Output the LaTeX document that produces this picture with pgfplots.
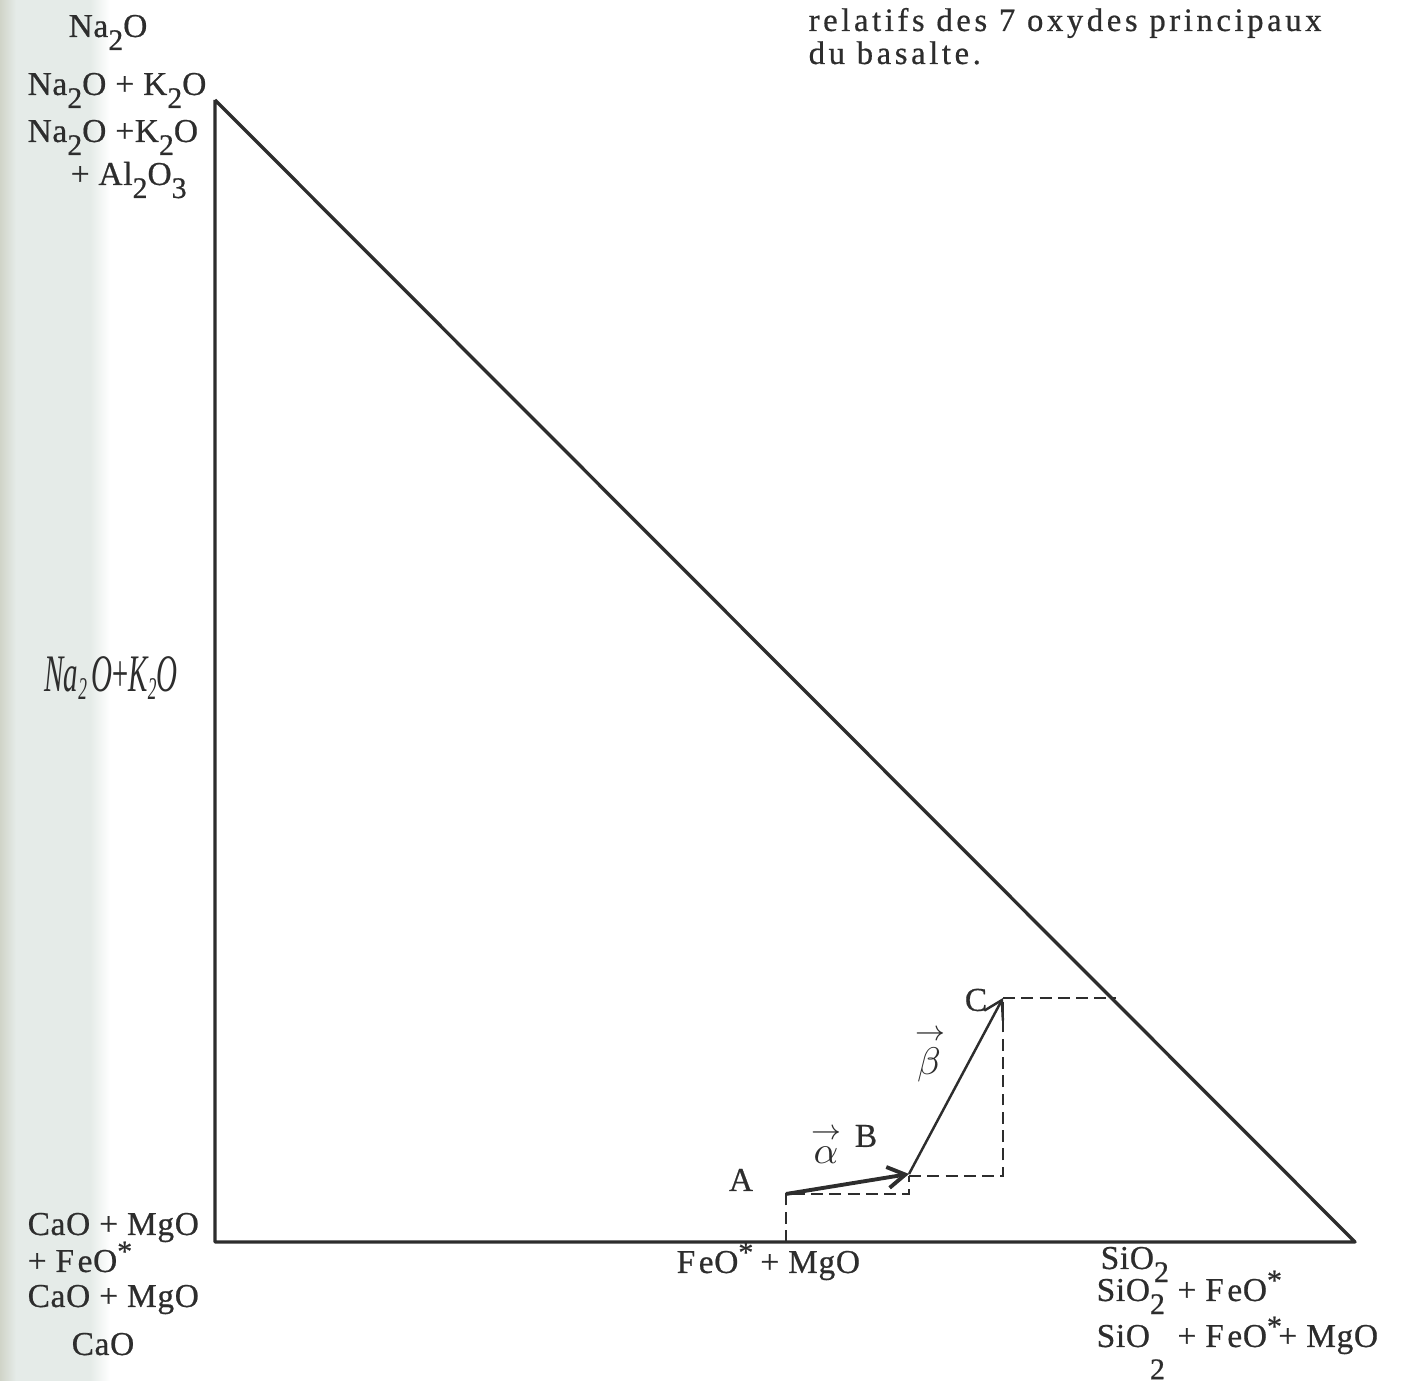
\documentclass[border=0pt]{standalone}
\usepackage{fontspec}
\setmainfont{Liberation Serif}
\newfontfamily\typ[LetterSpace=2,FakeBold=0.6]{Liberation Serif}
\newfontfamily\typc[LetterSpace=11,FakeBold=0.6]{Liberation Serif}
\usepackage{pgfplots}
\pgfplotsset{compat=1.18}
\usetikzlibrary{arrows.meta}
\usepackage{graphicx}
\definecolor{ink}{RGB}{45,45,45}
\definecolor{scanA}{RGB}{208,212,200}
\definecolor{scanB}{RGB}{229,235,232}
\newcommand{\sub}[1]{\raisebox{-0.85ex}{\fontsize{8.5}{10}\selectfont #1}}
\newcommand{\st}{\raisebox{0.7ex}{\fontsize{8.5}{10}\selectfont *}}
\newcommand{\lbl}{\fontsize{9.5}{11}\typ}
\begin{document}
\begin{tikzpicture}
\begin{axis}[width=14.14cm,height=13.81cm,scale only axis,
  xmin=0,xmax=1414,ymin=0,ymax=1381,hide axis,clip=false]
% scan shadow on the left edge
\fill[scanB] (axis cs:14,0) rectangle (axis cs:90,1381);
\shade[left color=scanB,right color=white,draw=none] (axis cs:90,0) rectangle (axis cs:110,1381);
\shade[left color=scanA,right color=scanB,draw=none] (axis cs:0,0) rectangle (axis cs:16,1381);
% triangle
\addplot[ink,line width=0.95pt,line join=round] coordinates {(215,1281) (215,139) (1355,139) (215,1281)};
% dashed construction lines
\addplot[ink,line width=0.6pt,dash pattern=on 3.4pt off 1.8pt] coordinates {(786,139) (786,187) (909,187) (909,205)};
\addplot[ink,line width=0.6pt,dash pattern=on 3.4pt off 1.8pt] coordinates {(909,205) (1003,205) (1003,383)};
\addplot[ink,line width=0.6pt,dash pattern=on 3.4pt off 1.8pt] coordinates {(1003,383) (1116,383)};
% vectors
\addplot[ink,line width=1.1pt,-{Straight Barb[length=5pt,width=6pt]}] coordinates {(786,187) (909,207)};
\addplot[ink,line width=0.7pt,-{Straight Barb[length=5pt,width=6pt]}] coordinates {(909,207) (1003,383)};
% point labels
\node[ink,font=\fontsize{9.5}{11}\typ] at (axis cs:741,201) {A};
\node[ink,font=\fontsize{9.5}{11}\typ] at (axis cs:866,245) {B};
\node[ink,font=\fontsize{9.5}{11}\typ] at (axis cs:976,381) {C};
\node[ink,font=\fontsize{11}{12}\selectfont,inner sep=0pt] at (axis cs:826,236) {$\stackrel{\rightarrow}{\alpha}$};
\node[ink,font=\fontsize{11}{12}\selectfont,inner sep=0pt] at (axis cs:929,327) {$\stackrel{\rightarrow}{\beta}$};
% top-left labels
\node[ink,font=\lbl,anchor=base west,inner sep=0pt] at (axis cs:68,1344) {Na\sub{2}O};
\node[ink,font=\lbl,anchor=base west,inner sep=0pt] at (axis cs:27,1286) {Na\sub{2}O + K\sub{2}O};
\node[ink,font=\lbl,anchor=base west,inner sep=0pt] at (axis cs:27,1239) {Na\sub{2}O +K\sub{2}O};
\node[ink,font=\lbl,anchor=base west,inner sep=0pt] at (axis cs:70,1196) {+ Al\sub{2}O\sub{3}};
\node[ink,font=\fontsize{15}{17}\selectfont\itshape,inner sep=0pt] at (axis cs:111,703)
  {\scalebox{0.55}[1]{Na\raisebox{-0.3ex}{\fontsize{9}{10}\selectfont 2}\,O\kern-1pt+\kern-1ptK\raisebox{-0.3ex}{\fontsize{9}{10}\selectfont 2}O}};
% bottom-left labels
\node[ink,font=\lbl,anchor=base west,inner sep=0pt] at (axis cs:27,146) {CaO + MgO};
\node[ink,font=\lbl,anchor=base west,inner sep=0pt] at (axis cs:27,109) {+ F\kern1pt eO\st};
\node[ink,font=\lbl,anchor=base west,inner sep=0pt] at (axis cs:27,74) {CaO + MgO};
\node[ink,font=\lbl,anchor=base west,inner sep=0pt] at (axis cs:71,26) {CaO};
% bottom labels
\node[ink,font=\lbl,anchor=base west,inner sep=0pt] at (axis cs:676,108) {F\kern1pt eO\st{}\kern2pt+ MgO};
\node[ink,font=\lbl,anchor=base west,inner sep=0pt] at (axis cs:1100,112) {SiO\sub{2}};
\node[ink,font=\lbl,anchor=base west,inner sep=0pt] at (axis cs:1096,80) {SiO\sub{2}\kern1pt\ + F\kern1pt eO\st};
\node[ink,font=\lbl,anchor=base west,inner sep=0pt] at (axis cs:1096,34) {SiO\raisebox{-2.1ex}{\fontsize{8.5}{10}\selectfont 2}\kern1pt\ + F\kern1pt eO\st\kern-1pt+ MgO};
% caption fragment top right
\node[ink,font=\fontsize{9.3}{11}\typc,anchor=base west,inner sep=0pt] at (axis cs:808,1350) {relatifs des 7 oxydes principaux};
\node[ink,font=\fontsize{9.3}{11}\typc,anchor=base west,inner sep=0pt] at (axis cs:808,1317) {du basalte.};
\end{axis}
\pgfresetboundingbox
\path[use as bounding box] (0,0) rectangle (14.14cm,13.81cm);
\end{tikzpicture}
\end{document}
